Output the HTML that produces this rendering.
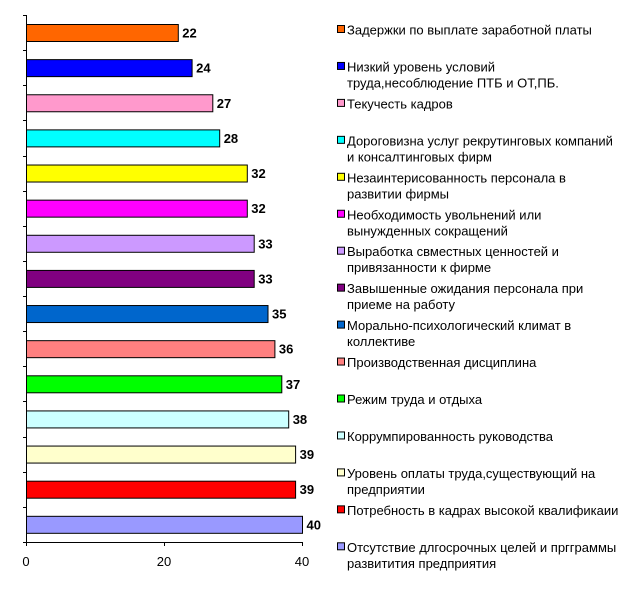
<!DOCTYPE html>
<html><head><meta charset="utf-8"><style>body{margin:0;background:#fff}svg{display:block}</style></head><body>
<svg width="623" height="589" xmlns="http://www.w3.org/2000/svg" font-family="Liberation Sans, Arial, sans-serif">
<rect width="623" height="589" fill="#fff"/>
<g stroke="#000" stroke-width="1">
<line x1="26.5" y1="15" x2="26.5" y2="542.5"/>
<line x1="26" y1="542.5" x2="302.5" y2="542.5"/>
<line x1="26.5" y1="542" x2="26.5" y2="546"/><line x1="164.5" y1="542" x2="164.5" y2="546"/><line x1="302.5" y1="542" x2="302.5" y2="546"/>
</g>
<g id="ticks" stroke="#000"></g>
<g id="bars"></g>
<g font-size="13" fill="#000" text-anchor="middle"><text x="26" y="566">0</text><text x="164" y="566">20</text><text x="302" y="566">40</text></g>
<g id="leg" font-size="13"></g>
<script>
var d=[[22,"#FF6600"],[24,"#0000FF"],[27,"#FF99CC"],[28,"#00FFFF"],[32,"#FFFF00"],[32,"#FF00FF"],[33,"#CC99FF"],[33,"#800080"],[35,"#0066CC"],[36,"#FF8080"],[37,"#00FF00"],[38,"#CCFFFF"],[39,"#FFFFCC"],[39,"#FF0000"],[40,"#9999FF"]];
var L=[["Задержки по выплате заработной платы"],["Низкий уровень условий","труда,несоблюдение ПТБ и ОТ,ПБ."],["Текучесть кадров"],["Дороговизна услуг рекрутинговых компаний","и консалтинговых фирм"],["Незаинтерисованность персонала в","развитии фирмы"],["Необходимость увольнений или","вынужденных сокращений"],["Выработка свместных ценностей и","привязанности к фирме"],["Завышенные ожидания персонала при","приеме на работу"],["Морально-психологический климат в","коллективе"],["Производственная дисциплина"],["Режим труда и отдыха"],["Коррумпированность руководства"],["Уровень оплаты труда,существующий на","предприятии"],["Потребность в кадрах высокой квалификаии"],["Отсутствие длгосрочных целей и пргграммы","развитития предприятия"]];
var ns="http://www.w3.org/2000/svg",b=document.getElementById("bars"),t=document.getElementById("ticks"),lg=document.getElementById("leg");
function el(p,n,a,tx){var e=document.createElementNS(ns,n);for(var k in a)e.setAttribute(k,a[k]);if(tx)e.textContent=tx;p.appendChild(e);return e;}
for(var i=0;i<=15;i++){var y=Math.round(15+i*35.13)+0.5;el(t,"line",{x1:23,y1:y,x2:26.5,y2:y});}
d.forEach(function(r,i){var y=24.5+i*35.13,w=r[0]*6.9;
el(b,"rect",{x:26.5,y:y,width:w,height:17,fill:r[1],stroke:"#000","stroke-width":1});
el(b,"text",{x:26.5+w+4,y:y+13,"font-size":13,"font-weight":"bold"},String(r[0]));
var ly=30+i*36.95;
el(lg,"rect",{x:337.5,y:ly-4.5,width:7,height:7,fill:r[1],stroke:"#000","stroke-width":1});
L[i].forEach(function(s,j){el(lg,"text",{x:347,y:ly+4.5+j*16},s);});
});
</script>
</svg>
</body></html>
